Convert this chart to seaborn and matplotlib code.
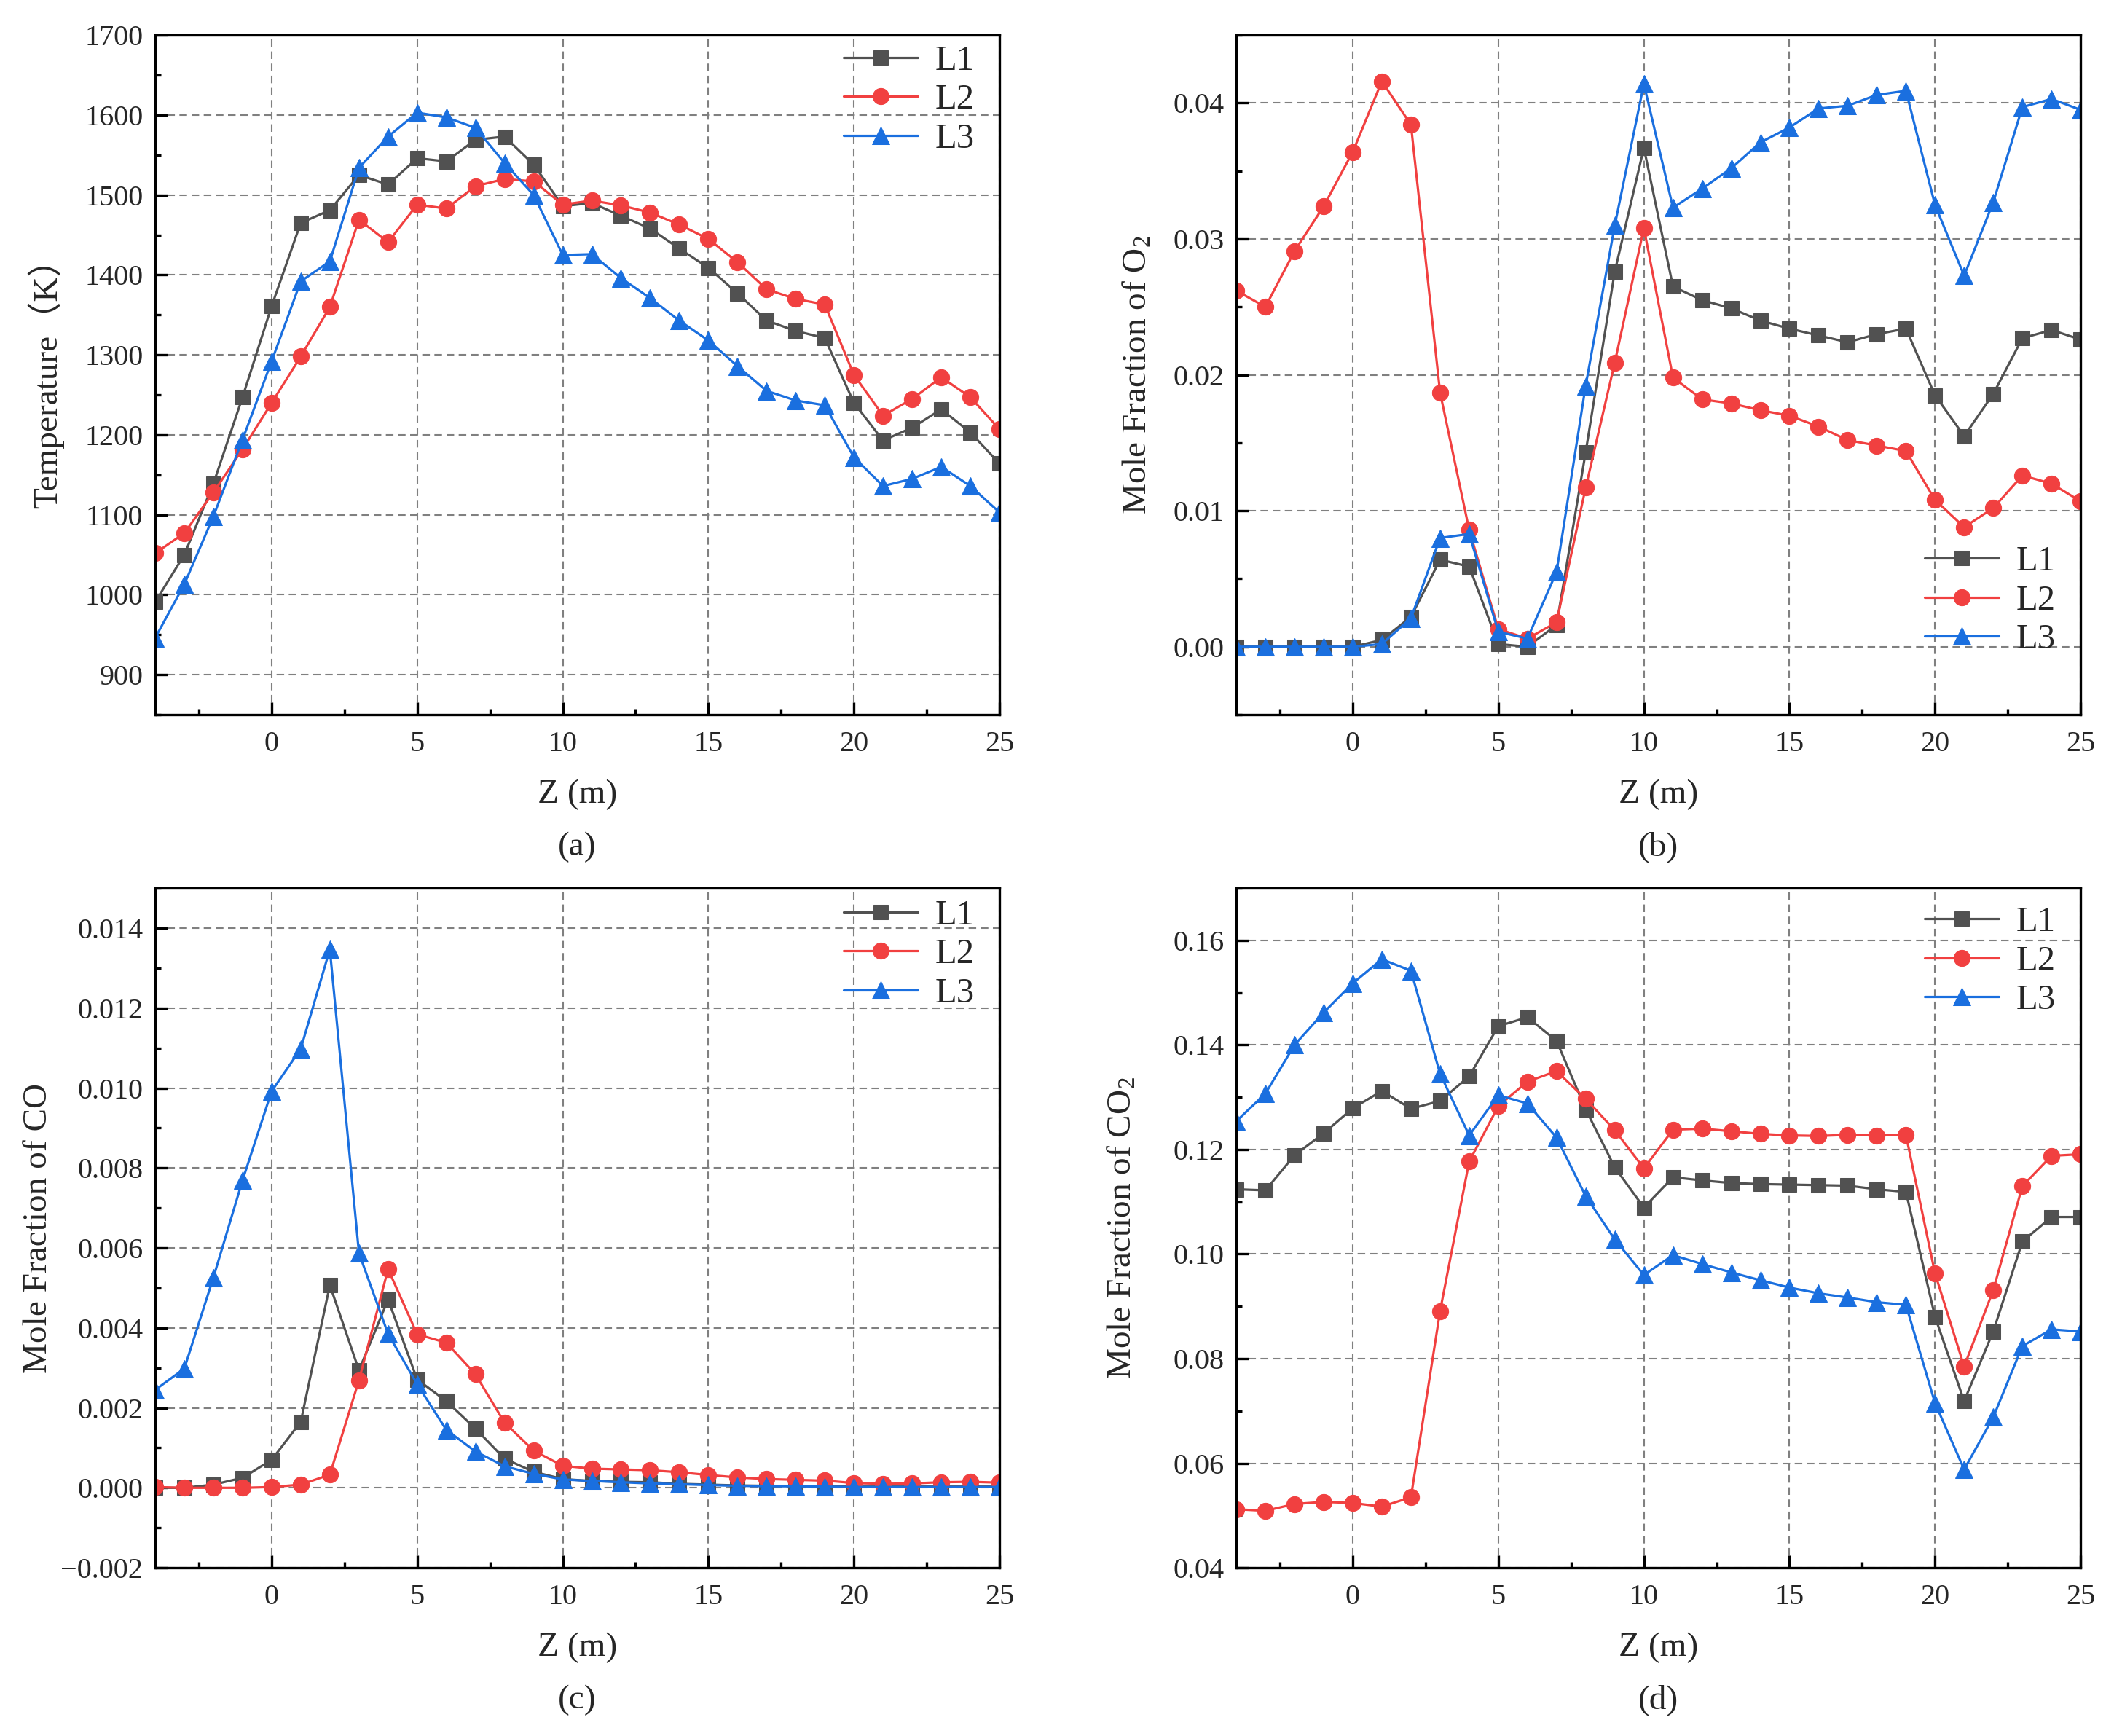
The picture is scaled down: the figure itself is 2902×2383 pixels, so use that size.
"""Axial profiles of temperature, O2, CO and CO2 along three lines (L1-L3)."""

import matplotlib
matplotlib.use("Agg")

import matplotlib.pyplot as plt
import numpy as np
import pandas as pd
import seaborn as sns
from matplotlib.ticker import FuncFormatter, MultipleLocator

# ── Data ────────────────────────────────────────────────────────────

z = list(range(-4, 26))
lines = ["L1", "L2", "L3"]

temp_l1 = [991, 1050, 1139, 1247, 1361, 1465, 1481, 1525, 1513, 1546,
           1542, 1569, 1573, 1538, 1486, 1490, 1474, 1458, 1433, 1409,
           1377, 1343, 1330, 1321, 1240, 1193, 1209, 1232, 1203, 1164]
temp_l2 = [1052, 1077, 1128, 1182, 1240, 1298, 1360, 1469, 1441, 1488,
           1483, 1511, 1520, 1517, 1488, 1493, 1487, 1478, 1463, 1445,
           1416, 1382, 1370, 1363, 1275, 1224, 1245, 1272, 1247, 1207]
temp_l3 = [946, 1013, 1098, 1194, 1292, 1392, 1417, 1534, 1573, 1603,
           1597, 1584, 1540, 1500, 1425, 1426, 1396, 1371, 1343, 1318,
           1286, 1255, 1243, 1237, 1172, 1136, 1145, 1160, 1136, 1103]

o2_l1 = [0.0, 0.0, 0.0, 0.0, 0.0, 0.0005, 0.0022, 0.0064, 0.0059, 0.0002,
         0.0, 0.0016, 0.0143, 0.0276, 0.0367, 0.0265, 0.0255, 0.0249, 0.0240, 0.0234,
         0.0229, 0.0224, 0.0230, 0.0234, 0.0185, 0.0155, 0.0186, 0.0227, 0.0233, 0.0226]
o2_l2 = [0.0262, 0.0250, 0.0291, 0.0324, 0.0364, 0.0416, 0.0384, 0.0187, 0.0086, 0.0013,
         0.0006, 0.0018, 0.0117, 0.0209, 0.0308, 0.0198, 0.0182, 0.0179, 0.0174, 0.0170,
         0.0162, 0.0152, 0.0148, 0.0144, 0.0108, 0.0088, 0.0102, 0.0126, 0.0120, 0.0107]
o2_l3 = [0.0, 0.0, 0.0, 0.0, 0.0, 0.0002, 0.0021, 0.0080, 0.0083, 0.0011,
         0.0006, 0.0055, 0.0192, 0.0310, 0.0414, 0.0323, 0.0337, 0.0352, 0.0371, 0.0382,
         0.0396, 0.0398, 0.0406, 0.0409, 0.0325, 0.0273, 0.0327, 0.0397, 0.0403, 0.0395]

co_l1 = [0.0, 0.0, 0.00008, 0.00025, 0.0007, 0.00165, 0.00507, 0.00294, 0.00471, 0.00271,
         0.00217, 0.00148, 0.00073, 0.0004, 0.00022, 0.00017, 0.00015, 0.00014, 0.0001, 0.00008,
         0.00006, 0.00005, 0.00005, 0.00004, 0.00003, 0.00003, 0.00003, 0.00003, 0.00003, 0.00003]
co_l2 = [0.00002, 0.0, 0.0, 0.0, 0.00002, 0.00008, 0.00033, 0.00269, 0.00547, 0.00384,
         0.00363, 0.00284, 0.00163, 0.00093, 0.00055, 0.00048, 0.00046, 0.00044, 0.00039, 0.00032,
         0.00026, 0.00022, 0.0002, 0.00018, 0.00012, 0.0001, 0.00011, 0.00014, 0.00015, 0.00013]
co_l3 = [0.00245, 0.00298, 0.00526, 0.00769, 0.00992, 0.01098, 0.01347, 0.00587, 0.00385, 0.00259,
         0.00145, 0.00091, 0.00054, 0.00035, 0.00021, 0.00017, 0.00014, 0.00011, 0.00009, 0.00007,
         0.00005, 0.00004, 0.00004, 0.00003, 0.00002, 0.00002, 0.00002, 0.00002, 0.00002, 0.00002]

co2_l1 = [0.1124, 0.1122, 0.1189, 0.1231, 0.1279, 0.1312, 0.1278, 0.1293, 0.1340, 0.1436,
          0.1453, 0.1408, 0.1277, 0.1166, 0.1089, 0.1147, 0.1141, 0.1136, 0.1134, 0.1133,
          0.1132, 0.1131, 0.1124, 0.1119, 0.0880, 0.0719, 0.0852, 0.1024, 0.1071, 0.1071]
co2_l2 = [0.0512, 0.0509, 0.0522, 0.0526, 0.0524, 0.0517, 0.0535, 0.0891, 0.1177, 0.1283,
          0.1330, 0.1350, 0.1297, 0.1237, 0.1164, 0.1238, 0.1240, 0.1235, 0.1230, 0.1227,
          0.1226, 0.1228, 0.1227, 0.1228, 0.0963, 0.0785, 0.0931, 0.1130, 0.1188, 0.1191]
co2_l3 = [0.1254, 0.1307, 0.1400, 0.1462, 0.1518, 0.1564, 0.1542, 0.1345, 0.1227, 0.1304,
          0.1288, 0.1223, 0.1111, 0.1028, 0.0960, 0.0998, 0.0981, 0.0965, 0.0950, 0.0936,
          0.0925, 0.0917, 0.0908, 0.0903, 0.0715, 0.0588, 0.0688, 0.0824, 0.0856, 0.0852]

# ── Style ───────────────────────────────────────────────────────────

COLORS = {"L1": "#515151", "L2": "#F14040", "L3": "#1A6FDF"}
MARKERS = {"L1": "s", "L2": "o", "L3": "^"}
MSIZE = {"L1": 14, "L2": 16, "L3": 17}

sns.set_style("white")
plt.rcParams["font.family"] = ["Liberation Serif", "Noto Sans CJK SC"]
plt.rcParams["mathtext.fontset"] = "custom"
plt.rcParams["mathtext.rm"] = "Liberation Serif"
plt.rcParams["mathtext.it"] = "Liberation Serif:italic"


def long_frame(series: dict[str, list[float]]) -> pd.DataFrame:
    rows = []
    for name, vals in series.items():
        for zi, v in zip(z, vals):
            rows.append({"Z": zi, "value": v, "line": name})
    return pd.DataFrame(rows)


def minus_fmt(fmt: str) -> FuncFormatter:
    return FuncFormatter(lambda v, _: (fmt % v).replace("-", "\u2212"))


def draw_panel(ax, series, ylabel, ylim, ymajor, yminor, yfmt, tag,
               legend_loc="upper right", legend_anchor=(1.0, 1.01),
               ylabel_x=-0.106):
    df = long_frame(series)
    for name in lines:
        sns.lineplot(
            data=df[df["line"] == name], x="Z", y="value", ax=ax,
            color=COLORS[name], marker=MARKERS[name],
            markersize=MSIZE[name], markeredgecolor=COLORS[name],
            linewidth=2.3, label=name,
        )

    ax.set_xlim(-4, 25)
    ax.set_ylim(*ylim)
    ax.xaxis.set_major_locator(MultipleLocator(5))
    ax.xaxis.set_minor_locator(MultipleLocator(2.5))
    ax.yaxis.set_major_locator(MultipleLocator(ymajor))
    ax.yaxis.set_minor_locator(MultipleLocator(yminor))
    ax.yaxis.set_major_formatter(minus_fmt(yfmt))
    ax.xaxis.set_major_formatter(minus_fmt("%d"))

    ax.grid(True, which="major", color="#808080", linestyle=(0, (5, 3)),
            linewidth=1.5)
    ax.tick_params(which="both", direction="in", bottom=True, left=True,
                   top=False, right=False, width=2.4, labelsize=29,
                   color="black")
    ax.tick_params(which="major", length=12)
    ax.tick_params(which="minor", length=6)
    ax.tick_params(axis="x", pad=16)
    ax.tick_params(axis="y", pad=12)
    for sp in ax.spines.values():
        sp.set_visible(True)
        sp.set_color("black")
        sp.set_linewidth(2.4)

    ax.set_xlabel("Z (m)", fontsize=34)
    ax.xaxis.set_label_coords(0.5, -0.095)
    ax.set_ylabel(ylabel, fontsize=34)
    ax.yaxis.set_label_coords(ylabel_x, 0.5)
    ax.text(0.5, -0.195, tag, transform=ax.transAxes, ha="center",
            va="center", fontsize=34)

    ax.legend(loc=legend_loc, bbox_to_anchor=legend_anchor, frameon=False,
              fontsize=35, handlelength=2.1, handletextpad=0.5,
              labelspacing=0.2, borderaxespad=0.3)


fig = plt.figure(figsize=(29.02, 23.83), dpi=100)
w, h = 0.3994, 0.3915
ax_a = fig.add_axes([0.0734, 0.5883, w, h])
ax_b = fig.add_axes([0.5848, 0.5883, w, h])
ax_c = fig.add_axes([0.0734, 0.0969, w, h])
ax_d = fig.add_axes([0.5848, 0.0969, w, h])

draw_panel(ax_a, {"L1": temp_l1, "L2": temp_l2, "L3": temp_l3},
           "Temperature（K）", (850, 1700), 100, 50, "%d", "(a)",
           legend_anchor=(1.0, 1.022), ylabel_x=-0.108)
draw_panel(ax_b, {"L1": o2_l1, "L2": o2_l2, "L3": o2_l3},
           r"Mole Fraction of O$_\mathrm{2}$", (-0.005, 0.045), 0.01, 0.005,
           "%.2f", "(b)", legend_loc="lower right",
           legend_anchor=(1.0, 0.05), ylabel_x=-0.098)
draw_panel(ax_c, {"L1": co_l1, "L2": co_l2, "L3": co_l3},
           "Mole Fraction of CO", (-0.002, 0.015), 0.002, 0.001,
           "%.3f", "(c)", legend_anchor=(1.0, 1.02), ylabel_x=-0.12)
draw_panel(ax_d, {"L1": co2_l1, "L2": co2_l2, "L3": co2_l3},
           r"Mole Fraction of CO$_\mathrm{2}$", (0.04, 0.17), 0.02, 0.01,
           "%.2f", "(d)", ylabel_x=-0.116)

fig.savefig("out.png", dpi=100)
plt.close(fig)
